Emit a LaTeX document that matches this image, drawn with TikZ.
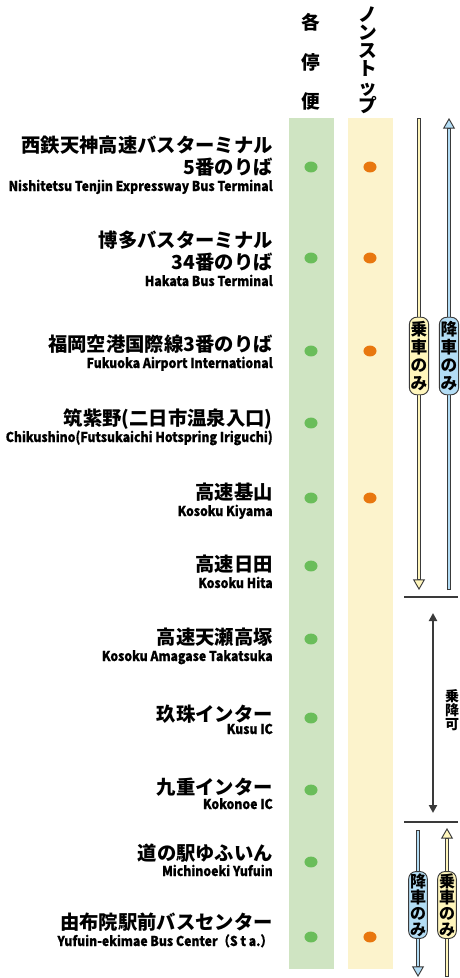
\documentclass[tikz,border=0pt]{standalone}
\usepackage{fontspec}
\setmainfont{Noto Sans CJK JP}
\newfontfamily\enfont{Noto Sans CJK JP}[FakeStretch=0.9, FakeBold=0.6]
\usetikzlibrary{arrows.meta}

\definecolor{colgreen}{HTML}{CFE4C2}
\definecolor{colyellow}{HTML}{FCF3CC}
\definecolor{dotgreen}{HTML}{6ABD5A}
\definecolor{dotorange}{HTML}{E8770F}
\definecolor{pillyellow}{HTML}{FFF6BC}
\definecolor{pillblue}{HTML}{B3DDF5}
\definecolor{edgegray}{HTML}{3A3A3A}

\tikzset{
  jp/.style={anchor=base east, inner sep=0pt, font=\bfseries\fontsize{14.5}{16}\selectfont},
  en/.style={anchor=base east, inner sep=0pt, font=\enfont\bfseries\fontsize{10.2}{12}\selectfont},
  head/.style={inner sep=0pt, align=center, font=\bfseries\fontsize{14}{13.7}\selectfont},
  pill/.style={draw=edgegray, line width=0.7pt, rounded corners=5.5pt, align=center,
    inner xsep=1pt, inner ysep=3pt, font=\bfseries\fontsize{12.5}{13.5}\selectfont},
  smallpill/.style={pill, inner ysep=1.5pt, font=\bfseries\fontsize{12}{12}\selectfont},
  pipe/.style={line width=3.6pt, draw=edgegray,
    -{Triangle[width=9pt, length=8pt, line width=0.7pt, fill=#1]},
    postaction={draw=#1, line width=2pt, -, shorten >=8pt, shorten <=0.8pt}},
  sep/.style={draw=edgegray, line width=0.8pt}
}

\begin{document}
\begin{tikzpicture}[x=0.75pt, y=-0.75pt]
\useasboundingbox (0,0) rectangle (460,978);

\fill[colgreen] (289,118) rectangle (334,969);
\fill[colyellow] (348,118) rectangle (393,969);

\node[head] (kaku) at (311,22) {各};
\node[head] (tei) at (311,62) {停};
\node[head] (bin) at (311,101) {便};
\node[head] (nonstop) at (368,60) {ノ\\ン\\ス\\ト\\ッ\\プ};

\node[jp] (s1a) at (273,152.5) {西鉄天神高速バスターミナル};
\node[jp] (s1b) at (273,174.5) {5番のりば};
\node[en] (s1e) at (273,191) {Nishitetsu Tenjin Expressway Bus Terminal};
\node[jp] (s2a) at (273,247.5) {博多バスターミナル};
\node[jp] (s2b) at (273,269.5) {34番のりば};
\node[en] (s2e) at (273,286) {Hakata Bus Terminal};
\node[jp] (s3a) at (273,351.5) {福岡空港国際線3番のりば};
\node[en] (s3e) at (273,368) {Fukuoka Airport International};
\node[jp] (s4a) at (273,425.5) {筑紫野(二日市温泉入口)};
\node[en] (s4e) at (273,442) {Chikushino(Futsukaichi Hotspring Iriguchi)};
\node[jp] (s5a) at (273,499.5) {高速基山};
\node[en] (s5e) at (273,516) {Kosoku Kiyama};
\node[jp] (s6a) at (273,571) {高速日田};
\node[en] (s6e) at (273,588) {Kosoku Hita};
\node[jp] (s7a) at (273,644.5) {高速天瀬高塚};
\node[en] (s7e) at (273,661) {Kosoku Amagase Takatsuka};
\node[jp] (s8a) at (273,721.5) {玖珠インター};
\node[en] (s8e) at (273,734) {Kusu IC};
\node[jp] (s9a) at (273,794.5) {九重インター};
\node[en] (s9e) at (273,809) {Kokonoe IC};
\node[jp] (s10a) at (273,860.5) {道の駅ゆふいん};
\node[en] (s10e) at (273,876) {Michinoeki Yufuin};
\node[jp] (s11a) at (273,929.5) {由布院駅前バスセンター};
\node[en] (s11e) at (273,946) {Yufuin-ekimae Bus Center（S t a.）};

\foreach \y in {167,258,351,423,498,566,639,718,790,862,937}
  \fill[dotgreen] (311,\y) ellipse (4.9pt and 4.1pt);
\foreach \y in {167,258,351,498,937}
  \fill[dotorange] (370,\y) ellipse (4.9pt and 4.1pt);

\coordinate (rideA) at (419,118);
\coordinate (rideB) at (419,590);
\coordinate (dropA) at (449,590);
\coordinate (dropB) at (449,118);
\draw[pipe=pillyellow] (rideA) -- (rideB);
\draw[pipe=pillblue] (dropA) -- (dropB);
\node[pill, fill=pillyellow] (rideonly) at (419,356) {乗\\車\\の\\み};
\node[pill, fill=pillblue] (droponly) at (449,356) {降\\車\\の\\み};

\draw[sep] (404,597) -- (458,597);
\coordinate (bothA) at (433,613);
\coordinate (bothB) at (433,813);
\draw[edgegray, line width=1.5pt, {Triangle[width=6pt,length=6pt]}-{Triangle[width=6pt,length=6pt]}] (bothA) -- (bothB);
\node[head, font=\bfseries\fontsize{10.5}{10.5}\selectfont] (both) at (452,710) {乗\\降\\可};
\draw[sep] (404,822) -- (458,822);

\coordinate (dropC) at (418,830);
\coordinate (dropD) at (418,977);
\coordinate (rideC) at (447,977);
\coordinate (rideD) at (447,828);
\draw[pipe=pillblue] (dropC) -- (dropD);
\draw[pipe=pillyellow] (rideC) -- (rideD);
\node[smallpill, fill=pillblue] (droponly2) at (418,905) {降\\車\\の\\み};
\node[smallpill, fill=pillyellow] (rideonly2) at (447,905) {乗\\車\\の\\み};
\end{tikzpicture}
\end{document}
